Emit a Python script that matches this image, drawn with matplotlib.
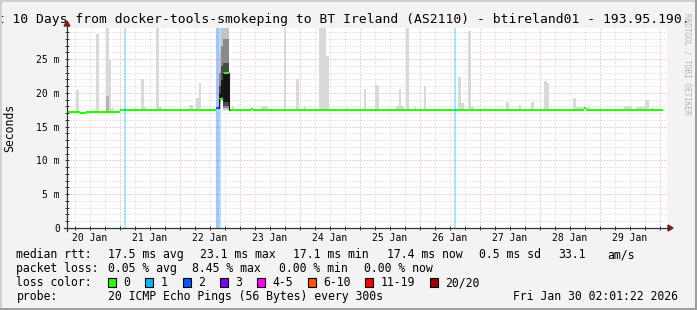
import numpy as np
import matplotlib
matplotlib.use('Agg')
import matplotlib.pyplot as plt
from matplotlib.patches import Rectangle, Polygon
from matplotlib.lines import Line2D

W, H = 697, 310
plt.rcParams['font.family'] = 'DejaVu Sans Mono'

# ---- data (time in hours since 20 Jan 00:00, rtt in ms) ----
title = 'Last 10 Days from docker-tools-smokeping to BT Ireland (AS2110) - btireland01 - 193.95.190.'

day_labels = ['20 Jan', '21 Jan', '22 Jan', '23 Jan', '24 Jan',
              '25 Jan', '26 Jan', '27 Jan', '28 Jan', '29 Jan']
y_ticks = [0, 5, 10, 15, 20, 25]
y_tick_labels = ['0', '5 m', '10 m', '15 m', '20 m', '25 m']

loss_labels = ['0', '1', '2', '3', '4-5', '6-10', '11-19', '20/20']
loss_colors = ['#26ff00', '#00b8ff', '#0059ff', '#7e00ff',
               '#ff00ff', '#ff5500', '#ff0000', '#a10000']

# median rtt, piecewise constant
med_t = [2.8, 8.0, 10.4, 24.0, 25.6, 26.4, 62.4, 63.7, 65.3, 67.5,
         76.4, 77.2, 157.6, 158.4, 209.6, 210.4, 241.2]
med_v = [17.2, 17.05, 17.2, 17.5, 17.5, 17.5, 17.7, 19.1, 22.9, 17.4,
         17.6, 17.4, 17.4, 17.4, 17.7, 17.4]
med_loss = [0, 0, 0, 0, 1, 0, 2, 0, 0, 0, 0, 0, 1, 0, 0, 0]

# packet loss periods (background bars)
loss_t0 = [25.6, 62.4, 63.7, 157.6]
loss_t1 = [26.4, 63.7, 64.5, 158.4]
loss_lvl = [1, 2, 1, 1]

# smoke: max rtt per bin
smoke_t0 = [6.3, 14.4, 18.3, 19.6, 20.3, 29.6, 32.3, 33.6, 38.4, 39.7,
            51.6, 54.4, 55.7, 68.7, 80.4, 89.6, 94.4, 97.6, 103.7, 106.4,
            114.4, 121.6, 126.0, 134.4, 135.6, 136.4, 138.3, 141.6, 145.6,
            159.2, 160.3, 163.2, 164.4, 169.6, 178.4, 183.6, 188.4, 193.6,
            194.7, 205.2, 206.4, 225.6, 230.4, 234.0, 236.4]
smoke_t1 = [7.6, 15.6, 19.6, 20.3, 21.6, 30.8, 33.6, 34.4, 39.7, 40.7,
            53.1, 55.7, 56.4, 69.6, 83.2, 90.4, 95.7, 98.4, 106.4, 107.7,
            115.2, 122.4, 127.5, 135.6, 136.4, 137.6, 139.6, 142.4, 146.4,
            160.3, 161.6, 164.4, 165.6, 170.4, 179.6, 184.4, 189.6, 194.7,
            195.6, 206.4, 212.0, 228.8, 234.0, 235.6, 237.6]
smoke_max = [20.4, 28.7, 30.0, 24.8, 17.8, 17.8, 22.0, 17.9, 30.0, 17.9,
             18.2, 19.2, 21.5, 18.1, 18.0, 30.0, 22.0, 18.0, 30.0, 25.5,
             17.8, 20.6, 21.2, 18.1, 20.6, 18.1, 30.0, 17.9, 21.0,
             22.3, 18.5, 29.1, 18.1, 17.8, 18.6, 18.2, 18.6, 21.7,
             21.4, 19.2, 17.9, 18.1, 17.9, 18.9, 17.8]
# second smoke layer (more pings high)
smoke2_t0 = [18.3]
smoke2_t1 = [19.6]
smoke2_max = [19.5]

# 22 Jan spike: ping spread per bin, outer -> inner rank pairs
dense_t0 = [63.7, 64.5, 65.3]
dense_t1 = [64.5, 65.3, 67.5]
dense_lo = [[17.8, 18.6, 19.0, 19.1],
            [19.0, 19.0, 19.2, 19.4],
            [17.5, 17.7, 18.0, 18.6]]
dense_hi = [[26.0, 23.0, 21.0, 19.8],
            [29.6, 27.0, 24.0, 21.9],
            [30.0, 27.9, 24.4, 22.9]]

row1 = [(16.4, 'median rtt:'), (107.6, '17.5 ms avg'), (200, '23.1 ms max'),
        (293, '17.1 ms min'), (387, '17.4 ms now'), (479, '0.5 ms sd'),
        (558, '33.1'), (607, 'am/s')]
row2 = [(16.4, 'packet loss:'), (107.6, '0.05 % avg'), (192, '8.45 % max'),
        (279, '0.00 % min'), (364, '0.00 % now')]
row4 = [(16.4, 'probe:'), (107.6, '20 ICMP Echo Pings (56 Bytes) every 300s'),
        (513, 'Fri Jan 30 02:01:22 2026')]
loss_box_x = [108.4, 145.3, 182.7, 219.6, 257, 307.6, 365, 430]


def fx(x):
    return x / W


def fy(y):
    return 1 - y / H


def med_at(h):
    i = np.searchsorted(med_t, h, side='right') - 1
    i = min(max(i, 0), len(med_v) - 1)
    return med_v[i]


fig = plt.figure(figsize=(W / 100, H / 100), dpi=100, facecolor='#f3f3f3')
ax = fig.add_axes([fx(67), fy(228), 600 / W, 200 / H], facecolor='white')
ax.set_xlim(2.8, 242.8)
ax.set_ylim(0, 29.6)
for s in ax.spines.values():
    s.set_visible(False)

# grid (dotted, faint)
grid_kw = dict(lw=0.72, ls=(0, (1, 2)), zorder=1)
for h in np.arange(6, 243, 6):
    if h % 24 == 0:
        ax.axvline(h, color='#de302f', alpha=0.45, **grid_kw)
    else:
        ax.axvline(h, color='#8f8f8f', alpha=0.4, **grid_kw)
for v in range(1, 30):
    if v % 5 == 0:
        ax.axhline(v, color='#de302f', alpha=0.45, **grid_kw)
    else:
        ax.axhline(v, color='#8f8f8f', alpha=0.4, **grid_kw)

# loss background
for t0, t1, lvl in zip(loss_t0, loss_t1, loss_lvl):
    ax.axvspan(t0, t1, color=loss_colors[lvl], alpha=0.35, lw=0, zorder=2)

# smoke
base = [med_at(t) - 0.1 for t in smoke_t0]
ax.bar(smoke_t0, np.array(smoke_max) - np.array(base),
       width=np.array(smoke_t1) - np.array(smoke_t0), bottom=base,
       align='edge', color='#d9d9d9', lw=0, zorder=3)
base2 = [med_at(t) - 0.1 for t in smoke2_t0]
ax.bar(smoke2_t0, np.array(smoke2_max) - np.array(base2),
       width=np.array(smoke2_t1) - np.array(smoke2_t0), bottom=base2,
       align='edge', color='#b4b4b4', lw=0, zorder=3)

shades = ['#c4c4c4', '#8a8a8a', '#4a4a4a', '#141414']
for t0, t1, lo, hi in zip(dense_t0, dense_t1, dense_lo, dense_hi):
    for k in range(len(lo)):
        ax.bar(t0, hi[k] - lo[k], width=t1 - t0, bottom=lo[k], align='edge',
               color=shades[k], lw=0, zorder=3)

# median line, coloured by loss; big jumps joined by a thin dark line
for i in range(len(med_v)):
    ax.plot([med_t[i], med_t[i + 1]], [med_v[i], med_v[i]],
            color=loss_colors[med_loss[i]], lw=1.5,
            solid_capstyle='butt', zorder=4)
    if i > 0 and abs(med_v[i - 1] - med_v[i]) > 0.5:
        ax.plot([med_t[i], med_t[i]], [med_v[i - 1], med_v[i]],
                color='#1a1a1a', lw=0.8, zorder=4)

# ticks
ax.set_xticks([12 + 24 * i for i in range(len(day_labels))], day_labels)
ax.set_xticks(np.arange(6, 243, 6), minor=True)
ax.xaxis.remove_overlapping_locs = False
ax.tick_params(axis='x', which='major', length=0, pad=3.5, labelsize=7)
ax.tick_params(axis='x', which='minor', direction='inout', length=3,
               width=0.7, color='#333333')
ax.set_yticks(y_ticks, y_tick_labels)
ax.set_yticks(np.arange(0, 30, 1), minor=True)
ax.tick_params(axis='y', which='both', direction='inout', length=3,
               width=0.7, color='#333333', pad=3.6, labelsize=7)

# axes with arrows
axis_col = '#333333'
fig.add_artist(Line2D([fx(67), fx(67)], [fy(231), fy(25)], color=axis_col,
                      lw=0.9, transform=fig.transFigure))
fig.add_artist(Line2D([fx(64), fx(670)], [fy(228), fy(228)], color=axis_col,
                      lw=0.9, transform=fig.transFigure))
fig.add_artist(Polygon([(fx(64), fy(26)), (fx(70), fy(26)), (fx(67), fy(21))],
                       closed=True, color='#7f1f1f', transform=fig.transFigure))
fig.add_artist(Polygon([(fx(668), fy(225)), (fx(668), fy(231)), (fx(673), fy(228))],
                       closed=True, color='#7f1f1f', transform=fig.transFigure))

# texts
fig.text(fx(-27.4), fy(23.3), title, fontsize=9.4, ha='left', va='baseline')
fig.text(fx(10), fy(127.5), 'Seconds', fontsize=8.3, rotation=90,
         ha='center', va='center')
fig.text(fx(687), fy(13), 'RRDTOOL / TOBI OETIKER', fontsize=5.5,
         rotation=270, ha='center', va='top', color='#b4b4b4')

for x, s in row1:
    fig.text(fx(x), fy(258.3), s, fontsize=8.3, va='baseline')
for x, s in row2:
    fig.text(fx(x), fy(272.3), s, fontsize=8.3, va='baseline')
fig.text(fx(16.4), fy(286.3), 'loss color:', fontsize=8.3, va='baseline')
for x, lab, c in zip(loss_box_x, loss_labels, loss_colors):
    fig.add_artist(Rectangle((fx(x), fy(286.5)), 8 / W, 9 / H, facecolor=c,
                             edgecolor='black', lw=0.8, transform=fig.transFigure))
    fig.text(fx(x + 15.3), fy(286.3), lab, fontsize=8.3, va='baseline')
for x, s in row4:
    fig.text(fx(x), fy(300.3), s, fontsize=8.3, va='baseline')

# 3d border
fig.add_artist(Rectangle((0, 1 - 2 / H), 1, 2 / H, color='#cfcfcf', lw=0,
                         transform=fig.transFigure, zorder=10))
fig.add_artist(Rectangle((0, 0), 2 / W, 1, color='#cfcfcf', lw=0,
                         transform=fig.transFigure, zorder=10))
fig.add_artist(Rectangle((0, 0), 1, 2 / H, color='#9e9e9e', lw=0,
                         transform=fig.transFigure, zorder=10))
fig.add_artist(Rectangle((1 - 2 / W, 0), 2 / W, 1, color='#9e9e9e', lw=0,
                         transform=fig.transFigure, zorder=10))

fig.savefig('out.png', dpi=100, facecolor=fig.get_facecolor())
